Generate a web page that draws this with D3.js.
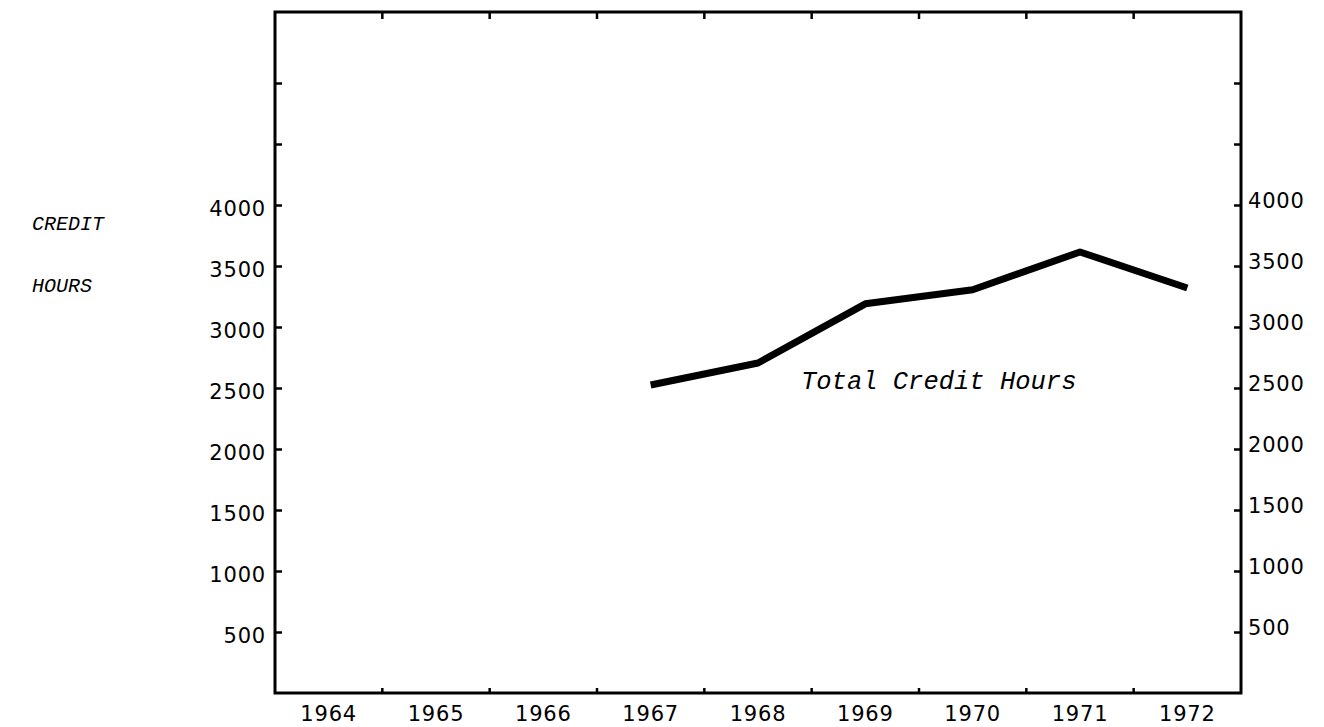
<!DOCTYPE html>
<html>
<head>
<meta charset="utf-8">
<script src="https://cdn.jsdelivr.net/npm/d3@7"></script>
<style>
  html, body { margin: 0; padding: 0; background: #fff; }
  svg { display: block; }
</style>
</head>
<body>
<svg id="chart" width="1324" height="727"></svg>
<script>
// ---- data ----
const years = ["1964", "1965", "1966", "1967", "1968", "1969", "1970", "1971", "1972"];
const dataYears = ["1967", "1968", "1969", "1970", "1971", "1972"];
const creditHours = [2525, 2705, 3190, 3305, 3615, 3320];
const yTickValues = [500, 1000, 1500, 2000, 2500, 3000, 3500, 4000, 4500, 5000];
const yTickLabels = ["500", "1000", "1500", "2000", "2500", "3000", "3500", "4000", "", ""];
const seriesLabel = "Total Credit Hours";
const axisTitle = ["CREDIT", "HOURS"];

(function () {
  // ---- layout ----
  const pLeft = 275, pRight = 1241, pTop = 12, pBottom = 693;
  const svg = d3.select("#chart");

  const x = d3.scaleBand().domain(years).range([pLeft, pRight]).paddingInner(0).paddingOuter(0);
  const y = d3.scaleLinear().domain([0, 5582]).range([pBottom, pTop]);

  const tickFont = "'DejaVu Sans', sans-serif";
  const typeFont = "'Liberation Mono', 'Courier New', monospace";
  const tickSize = 21;
  const tickSpacing = 0.8;

  // frame
  svg.append("rect")
    .attr("x", pLeft).attr("y", pTop)
    .attr("width", pRight - pLeft).attr("height", pBottom - pTop)
    .attr("fill", "none").attr("stroke", "#000").attr("stroke-width", 3);

  const boundaries = years.slice(1).map(d => x(d));

  // bottom ticks (pointing up)
  svg.append("g").selectAll("line").data(boundaries).join("line")
    .attr("x1", d => d).attr("x2", d => d)
    .attr("y1", pBottom).attr("y2", pBottom - 5)
    .attr("stroke", "#000").attr("stroke-width", 2.5);

  // top ticks (pointing down)
  svg.append("g").selectAll("line").data(boundaries).join("line")
    .attr("x1", d => d).attr("x2", d => d)
    .attr("y1", pTop).attr("y2", pTop + 7)
    .attr("stroke", "#000").attr("stroke-width", 2.5);

  // bottom year labels
  svg.append("g").selectAll("text").data(years).join("text")
    .attr("x", d => x(d) + x.bandwidth() / 2)
    .attr("y", 721)
    .attr("text-anchor", "middle")
    .attr("font-family", tickFont).attr("font-size", tickSize)
    .attr("letter-spacing", tickSpacing)
    .attr("fill", "#000")
    .text(d => d);

  // left axis
  const leftAxis = d3.axisLeft(y).tickValues(yTickValues)
    .tickFormat((d, i) => yTickLabels[i]).tickSize(0).tickPadding(0);
  const gl = svg.append("g").call(leftAxis);
  gl.select(".domain").remove();
  gl.selectAll(".tick line").remove();
  gl.selectAll(".tick").append("line")
    .attr("x1", pLeft).attr("x2", pLeft + 7)
    .attr("stroke", "#000").attr("stroke-width", 2.5);
  gl.selectAll(".tick text")
    .attr("x", pLeft - 9).attr("dy", "10px")
    .attr("font-family", tickFont).attr("font-size", tickSize)
    .attr("letter-spacing", tickSpacing)
    .attr("fill", "#000");

  // right axis
  const rightAxis = d3.axisRight(y).tickValues(yTickValues)
    .tickFormat((d, i) => yTickLabels[i]).tickSize(0).tickPadding(0);
  const gr = svg.append("g").call(rightAxis);
  gr.select(".domain").remove();
  gr.selectAll(".tick line").remove();
  gr.selectAll(".tick").append("line")
    .attr("x1", pRight - 7).attr("x2", pRight)
    .attr("stroke", "#000").attr("stroke-width", 2.5);
  gr.selectAll(".tick text")
    .attr("x", pRight + 7).attr("dy", "2px")
    .attr("font-family", tickFont).attr("font-size", tickSize)
    .attr("letter-spacing", tickSpacing)
    .attr("fill", "#000");

  // data line
  const pts = dataYears.map((d, i) => [x(d) + x.bandwidth() / 2, y(creditHours[i])]);
  svg.append("path")
    .datum(pts)
    .attr("d", d3.line())
    .attr("fill", "none")
    .attr("stroke", "#000")
    .attr("stroke-width", 7)
    .attr("stroke-linejoin", "round");

  // series label
  svg.append("text")
    .attr("x", 801).attr("y", 389)
    .attr("font-family", typeFont).attr("font-style", "italic")
    .attr("font-size", 25.5)
    .attr("fill", "#000")
    .text(seriesLabel);

  // axis title
  svg.append("g").selectAll("text").data(axisTitle).join("text")
    .attr("x", 32).attr("y", (d, i) => 230 + i * 62)
    .attr("font-family", typeFont).attr("font-style", "italic")
    .attr("font-size", 20)
    .attr("fill", "#000")
    .text(d => d);
})();
</script>
</body>
</html>
